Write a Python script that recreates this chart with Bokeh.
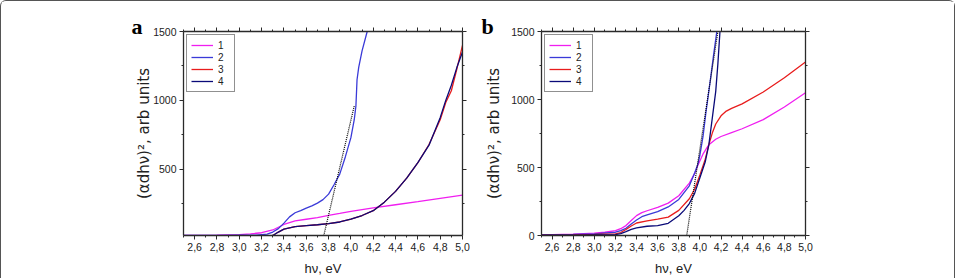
from bokeh.plotting import figure
from bokeh.models import (Range1d, FixedTicker, CustomJSTickFormatter, LinearAxis,
                          Legend, LegendItem, Label)
from bokeh.layouts import row
from bokeh.embed import file_html
from bokeh.resources import INLINE

# ---------------- data ----------------
x_ticks = [2.6, 2.8, 3.0, 3.2, 3.4, 3.6, 3.8, 4.0, 4.2, 4.4, 4.6, 4.8, 5.0]
x_minor = [2.5, 2.7, 2.9, 3.1, 3.3, 3.5, 3.7, 3.9, 4.1, 4.3, 4.5, 4.7, 4.9]
y_ticks = [0, 500, 1000, 1500]
y_minor = [250, 750, 1250]
series_names = ["1", "2", "3", "4"]
series_colors = ["#f01ef0", "#3a3ad8", "#e81c1c", "#0a0a78"]

# panel a
a_x1 = [2.5, 2.8, 3.0, 3.1, 3.2, 3.3, 3.4, 3.5, 3.6, 3.7, 3.8, 3.9, 4.0, 4.2, 4.4, 4.6, 4.8, 5.0]
a_y1 = [20, 22, 27, 32, 40, 60, 100, 126, 138, 150, 166, 180, 195, 220, 243, 265, 290, 313]
a_x2 = [2.5, 2.8, 3.0, 3.15, 3.25, 3.3, 3.35, 3.4, 3.45, 3.5, 3.55, 3.6, 3.65, 3.7, 3.75, 3.8,
        3.85, 3.9, 3.95, 4.0, 4.03, 4.045, 4.055, 4.07, 4.1, 4.146]
a_y2 = [20, 21, 22, 22, 30, 45, 70, 110, 155, 185, 200, 218, 235, 255, 280, 320,
        390, 465, 590, 730, 860, 960, 1150, 1240, 1360, 1500]
a_x3 = [2.5, 3.0, 3.25, 3.3, 3.35, 3.4, 3.5, 3.6, 3.7, 3.8, 3.9, 4.0, 4.1, 4.2, 4.3, 4.4,
        4.5, 4.6, 4.7, 4.8, 4.85, 4.9, 4.95, 5.0]
a_y3 = [5, 6, 10, 20, 45, 66, 84, 92, 98, 106, 118, 138, 165, 200, 262, 340,
        436, 548, 680, 860, 985, 1070, 1230, 1400]
a_x4 = [2.5, 3.0, 3.25, 3.3, 3.35, 3.4, 3.5, 3.6, 3.7, 3.8, 3.9, 4.0, 4.1, 4.2, 4.3, 4.4,
        4.5, 4.6, 4.7, 4.8, 4.85, 4.9, 4.95, 5.0]
a_y4 = [5, 6, 10, 20, 45, 66, 84, 92, 98, 106, 118, 138, 165, 200, 262, 340,
        436, 548, 675, 875, 1000, 1110, 1240, 1351]
a_fit_x = [3.757, 4.03]
a_fit_y = [20, 960]

# panel b
b_x1 = [2.5, 2.8, 3.0, 3.1, 3.2, 3.25, 3.3, 3.35, 3.4, 3.45, 3.5, 3.6, 3.7, 3.8, 3.9, 3.95,
        3.98, 4.03, 4.085, 4.15, 4.2, 4.3, 4.4, 4.6, 4.8, 5.0]
b_y1 = [5, 10, 17, 24, 36, 50, 73, 110, 146, 168, 182, 207, 238, 292, 385, 455,
        515, 600, 668, 708, 728, 757, 785, 852, 945, 1050]
b_x2 = [2.5, 2.8, 3.0, 3.2, 3.25, 3.3, 3.35, 3.4, 3.45, 3.5, 3.6, 3.7, 3.8, 3.9, 3.95, 3.98,
        4.0, 4.03, 4.056, 4.1, 4.13, 4.16]
b_y2 = [4, 8, 12, 24, 36, 53, 85, 114, 138, 151, 175, 210, 265, 365, 460, 522,
        590, 730, 898, 1150, 1330, 1500]
b_x3 = [2.5, 2.8, 3.0, 3.2, 3.25, 3.3, 3.35, 3.4, 3.5, 3.6, 3.7, 3.8, 3.9, 3.95, 4.0, 4.05,
        4.085, 4.12, 4.15, 4.2, 4.25, 4.3, 4.4, 4.6, 4.8, 5.0]
b_y3 = [3, 5, 8, 12, 22, 44, 70, 92, 107, 120, 135, 185, 270, 340, 445, 560,
        668, 760, 820, 880, 915, 935, 968, 1055, 1160, 1276]
b_x4 = [2.5, 2.8, 3.0, 3.2, 3.25, 3.3, 3.35, 3.4, 3.5, 3.6, 3.7, 3.8, 3.85, 3.9, 3.95, 4.0,
        4.05, 4.085, 4.12, 4.15, 4.17, 4.19]
b_y4 = [2, 3, 5, 6, 14, 29, 45, 56, 68, 73, 90, 145, 185, 235, 310, 425,
        540, 668, 880, 1060, 1260, 1500]
b_fit_x = [3.875, 4.17]
b_fit_y = [0, 1500]

x_label = "hν, eV"
y_label = "(αdhν)², arb units"

SANS = "Liberation Sans"
AX_COLOR = "#2a2a2a"


def style_axis(ax, ticker, formatter=None, blank=False):
    ax.ticker = ticker
    ax.axis_line_color = AX_COLOR
    ax.axis_line_width = 1.3
    ax.major_tick_line_color = AX_COLOR
    ax.minor_tick_line_color = AX_COLOR
    ax.major_tick_in = 0
    ax.major_tick_out = 4
    ax.minor_tick_in = 0
    ax.minor_tick_out = 2
    if blank:
        ax.formatter = CustomJSTickFormatter(code="return ''")
        ax.major_label_text_font_size = "1px"
        ax.major_label_standoff = 0
    else:
        if formatter is not None:
            ax.formatter = formatter
        ax.major_label_text_font = SANS
        ax.major_label_text_font_size = "10.5px"
        ax.major_label_text_color = "#222222"
        ax.major_label_standoff = 3


def make_panel(letter, xs, ys, fit_x, fit_y, y_start, width, border_left, border_right,
               ylabel_standoff, letter_x):
    p = figure(width=width, height=277, x_range=Range1d(2.5, 5.0),
               y_range=Range1d(y_start, 1500), output_backend="svg",
               toolbar_location=None, min_border_left=border_left,
               min_border_right=border_right, min_border_top=30, min_border_bottom=41)
    p.outline_line_color = None
    p.xgrid.visible = False
    p.ygrid.visible = False
    p.background_fill_color = "white"
    p.border_fill_color = "white"

    xt = FixedTicker(ticks=x_ticks, minor_ticks=x_minor)
    yt = FixedTicker(ticks=y_ticks, minor_ticks=y_minor)
    xfmt = CustomJSTickFormatter(code="return tick.toFixed(1).replace('.', ',')")

    style_axis(p.xaxis[0], xt, xfmt)
    style_axis(p.yaxis[0], yt)
    p.xaxis.axis_label = x_label
    p.xaxis.axis_label_text_font = SANS
    p.xaxis.axis_label_text_font_size = "13px"
    p.xaxis.axis_label_text_font_style = "normal"
    p.xaxis.axis_label_text_color = "#222222"
    p.xaxis.axis_label_standoff = 7
    p.yaxis.axis_label = y_label
    p.yaxis.axis_label_text_font = "DejaVu Sans"
    p.yaxis.axis_label_text_font_size = "15px"
    p.yaxis.axis_label_text_font_style = "normal"
    p.yaxis.axis_label_text_color = "#222222"
    p.yaxis.axis_label_standoff = ylabel_standoff

    top = LinearAxis()
    style_axis(top, FixedTicker(ticks=x_ticks, minor_ticks=x_minor), blank=True)
    p.add_layout(top, "above")
    right = LinearAxis()
    style_axis(right, FixedTicker(ticks=y_ticks, minor_ticks=y_minor), blank=True)
    p.add_layout(right, "right")

    items = []
    for name, color, x, y in zip(series_names, series_colors, xs, ys):
        r = p.line(x, y, line_color=color, line_width=1.3)
        items.append(LegendItem(label=name, renderers=[r]))

    p.line(fit_x, fit_y, line_color="black", line_width=1.2, line_dash="1 1")

    legend = Legend(items=items, location="top_left", margin=3, padding=4, spacing=0,
                    glyph_width=22, glyph_height=12, label_height=12, label_width=12,
                    label_standoff=5, label_text_font=SANS, label_text_font_size="10px",
                    label_text_color="#222222", border_line_color="#222222",
                    border_line_width=1, background_fill_alpha=1.0)
    p.add_layout(legend)

    lab = Label(x=letter_x, y=209, x_units="screen", y_units="screen",
                text=letter, text_font="Liberation Serif", text_font_style="bold",
                text_font_size="22px", text_color="black",
                text_baseline="alphabetic", text_align="left")
    p.add_layout(lab, "left")
    return p


pa = make_panel("a", [a_x1, a_x2, a_x3, a_x4], [a_y1, a_y2, a_y3, a_y4], a_fit_x, a_fit_y,
                20, 469, 182, 8, -3, 10)
pb = make_panel("b", [b_x1, b_x2, b_x3, b_x4], [b_y1, b_y2, b_y3, b_y4], b_fit_x, b_fit_y,
                0, 484, 57, 149, 5, 11)

layout = row(pa, pb, styles={
    "border-top": "1px solid #555",
    "border-left": "1px solid #555",
    "border-right": "1px solid #555",
    "border-top-left-radius": "6px",
    "border-top-right-radius": "6px",
})

open("out.html", "w").write(file_html(layout, INLINE))
